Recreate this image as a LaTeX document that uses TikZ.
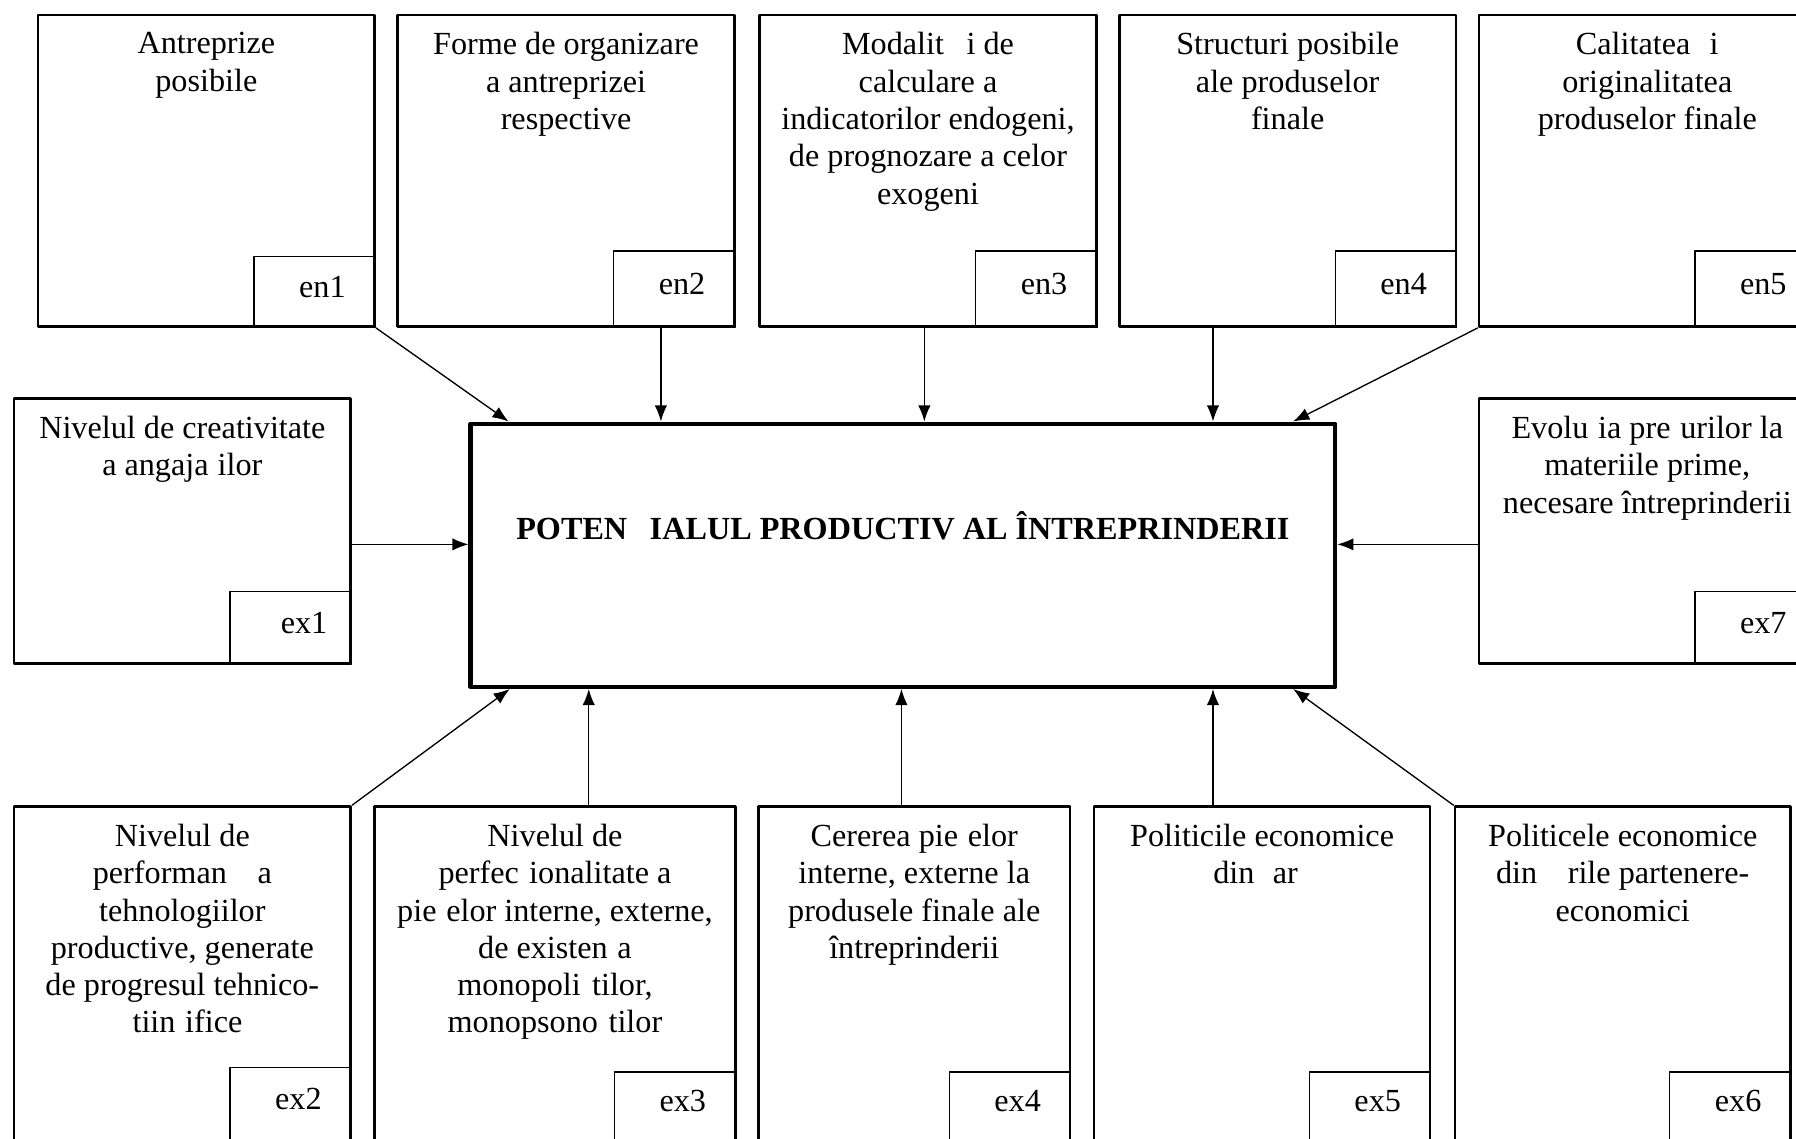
\documentclass[tikz,border=0pt]{standalone}
\usepackage{fontspec}
\setmainfont{Liberation Serif}
\usetikzlibrary{arrows.meta,positioning}
\newcommand\gol[1]{\hspace*{#1em}}
\tikzset{
	caseta/.style={draw,line width=1pt,inner sep=0pt,anchor=north west},
	continut/.style={align=center,inner sep=0pt,font=\fontsize{12pt}{13.9pt}\selectfont},
	indice/.style={draw,line width=0.5pt,anchor=south east,minimum width=1.59cm,text width=0.81cm,align=right,inner sep=0pt,text height=8pt,text depth=4pt,font=\fontsize{12pt}{13.9pt}\selectfont},
	indicejos/.style={indice,text depth=8pt},
	sageata/.style={-{Latex[length=6pt,width=4.6pt]},line width=0.5pt}
}

\begin{document}
\begin{tikzpicture}[x=0.015cm,y=-0.015cm,line join=round,line cap=round]
	\path[use as bounding box] (0,0) rectangle (1568,994);
	\fill[white] (0,0) rectangle (1568,994);
	\clip (0,0) rectangle (1568,994);
	% centrul
	\node[caseta,line width=1.5pt,minimum width=11.325cm,minimum height=3.45cm,text height=10pt,text depth=21.5pt,font=\bfseries\fontsize{12pt}{13.9pt}\selectfont] (pot) at (409,368) {POTEN\gol{0.7}IALUL PRODUCTIV AL ÎNTREPRINDERII};
	% factori endogeni
	\foreach\i/\x/\h in {1/32/0.93,2/346/1.0,3/662/1.0,4/976/1.0,5/1290/1.0}
	{
		\node[caseta,minimum width=4.41cm,minimum height=4.08cm] (en\i) at (\x,12) {};
		\node[indice,minimum height=\h cm] (en\i-cod) at (en\i.south east) {en\i};
	}
	\node[continut,below=0.24cm of en1.north] (en1-text) {Antreprize\\posibile};
	\node[continut,below=0.24cm of en2.north] (en2-text) {Forme de organizare\\a antreprizei\\respective};
	\node[continut,below=0.24cm of en3.north] (en3-text) {Modalit\gol{0.7}i de\\calculare a\\indicatorilor endogeni,\\de prognozare a celor\\exogeni};
	\node[continut,below=0.24cm of en4.north] (en4-text) {Structuri posibile\\ale produselor\\finale};
	\node[continut,below=0.24cm of en5.north] (en5-text) {Calitatea \gol{0.35}i\\originalitatea\\produselor finale};
	% factori exogeni
	\node[caseta,minimum width=4.41cm,minimum height=3.465cm] (ex1) at (11,347) {};
	\node[caseta,minimum width=4.41cm,minimum height=3.465cm] (ex7) at (1290,347) {};
	\node[indice,minimum height=0.95cm,text width=0.96cm] (ex1-cod) at (ex1.south east) {ex1};
	\node[indice,minimum height=0.95cm] (ex7-cod) at (ex7.south east) {ex7};
	\foreach\i/\x/\w/\h in {2/11/4.41/1.095,3/326/4.72/1.035,4/661/4.08/1.035,5/954/4.40/1.035,6/1269/4.395/1.035}
	{
		\node[caseta,minimum width=\w cm,minimum height=4.5cm] (ex\i) at (\x,703) {};
		\node[indicejos,minimum height=\h cm] (ex\i-cod) at (ex\i.south east) {ex\i};
	}
	\node[continut,below=0.24cm of ex1.north] (ex1-text) {Nivelul de creativitate\\a angaja\gol{0.28}ilor};
	\node[continut,below=0.24cm of ex7.north] (ex7-text) {Evolu\gol{0.3}ia pre\gol{0.3}urilor la\\materiile prime,\\necesare întreprinderii};
	\node[continut,below=0.24cm of ex2.north] (ex2-text) {Nivelul de\\performan\gol{0.7} a\\tehnologiilor\\productive, generate\\de progresul tehnico-\\\gol{0.32}tiin\gol{0.3}ifice};
	\node[continut,below=0.24cm of ex3.north] (ex3-text) {Nivelul de\\perfec\gol{0.32}ionalitate a\\pie\gol{0.3}elor interne, externe,\\de existen\gol{0.3}a\\monopoli\gol{0.35}tilor,\\monopsono\gol{0.33}tilor};
	\node[continut,below=0.24cm of ex4.north] (ex4-text) {Cererea pie\gol{0.3}elor\\interne, externe la\\produsele finale ale\\întreprinderii};
	\node[continut,below=0.24cm of ex5.north] (ex5-text) {Politicile economice\\din \gol{0.32}ar\gol{0.4}\mbox{}};
	\node[continut,below=0.24cm of ex6.north] (ex6-text) {Politicele economice\\din \gol{0.7}rile partenere-\\economici};
	% sageti
	\foreach\i/\dx in {1/35,2/168,3/398,4/650,5/720}
		\path (pot.north west) ++(\dx,0) coordinate (sus\i);
	\foreach\i/\dx in {2/36,3/105,4/378,5/650,6/720}
		\path (pot.south west) ++(\dx,0) coordinate (jos\i);
	\path (pot.west) ++(0,-9.5) coordinate (st);
	\path (pot.east) ++(0,-9.5) coordinate (dr);
	\draw[sageata] (en1.south east) -- (sus1);
	\foreach\i in {2,3,4}
		\draw[sageata] (sus\i |- en\i.south) -- (sus\i);
	\draw[sageata] (en5.south west) -- (sus5);
	\draw[sageata] (ex1.east |- st) -- (st);
	\draw[sageata] (ex7.west |- dr) -- (dr);
	\draw[sageata] (ex2.north east) -- (jos2);
	\foreach\i in {3,4,5}
		\draw[sageata] (jos\i |- ex\i.north) -- (jos\i);
	\draw[sageata] (ex6.north west) -- (jos6);
\end{tikzpicture}
\end{document}
